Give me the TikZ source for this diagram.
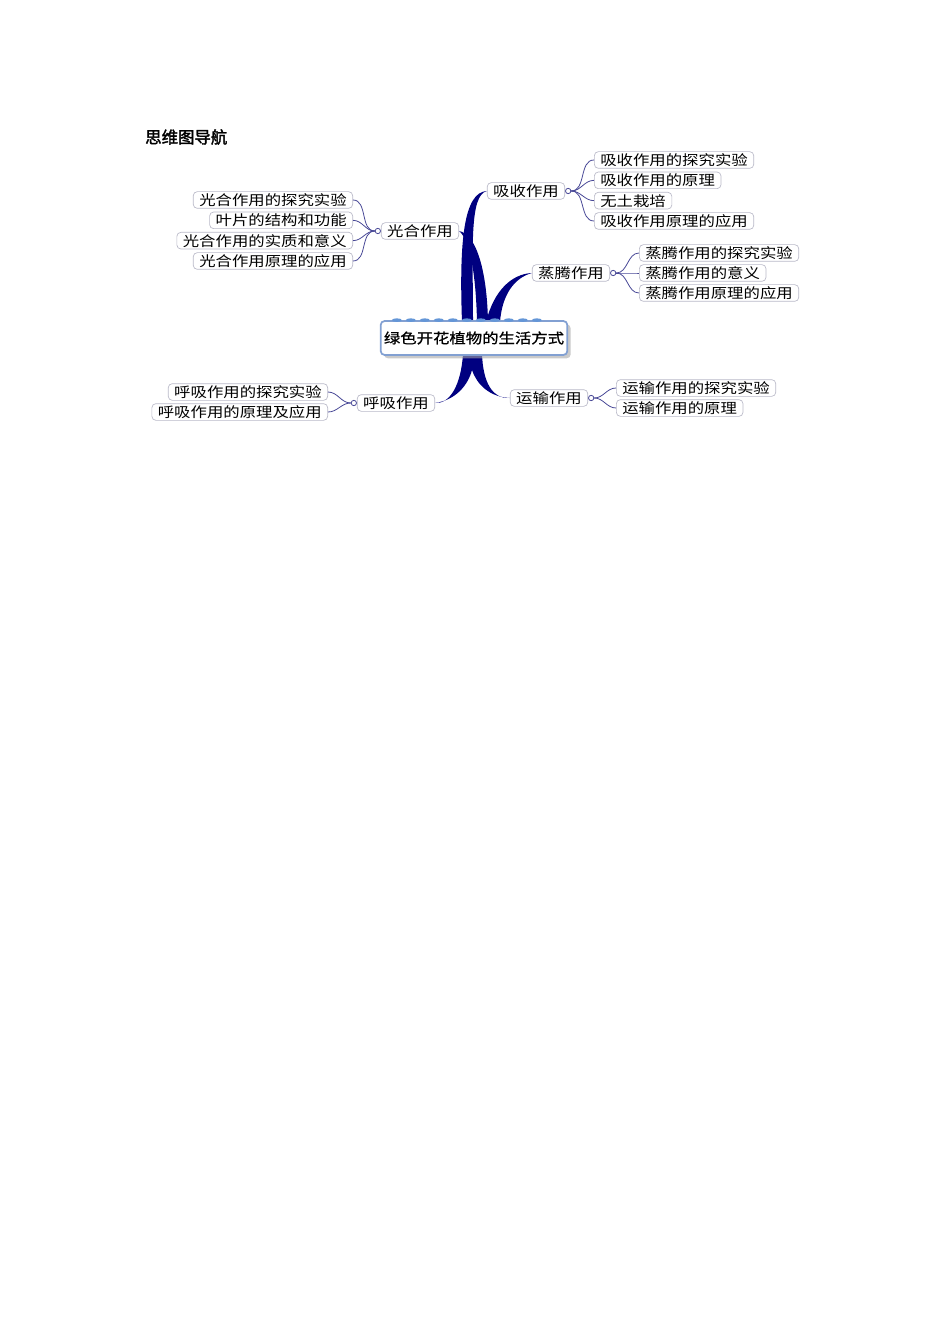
\documentclass[tikz,border=0pt]{standalone}
\usepackage{fontspec}
\newfontfamily\cjk[FakeStretch=1.17]{Noto Sans CJK SC}
\newfontfamily\cjkroot[FakeStretch=1.17, FakeBold=1]{Noto Sans CJK SC}
\newfontfamily\cjktitle[FakeBold=2]{Noto Sans CJK SC}
\usetikzlibrary{positioning, calc, shadows, backgrounds}
\definecolor{trunkblue}{RGB}{0,0,128}
\definecolor{linkblue}{RGB}{72,72,150}
\definecolor{boxgray}{RGB}{185,185,200}
\definecolor{rootedge}{RGB}{130,160,210}
\definecolor{scallop}{RGB}{100,150,215}

\begin{document}
\begin{tikzpicture}[x=0.75pt, y=-0.75pt,
        font=\cjk\fontsize{10.5pt}{12pt}\selectfont,
        leaf/.style={draw=boxgray, fill=white, rounded corners=3pt, line width=0.5pt, inner xsep=4.5pt, inner ysep=0.5pt, minimum height=12.5pt, text=black},
        topic/.style={leaf},
        knob/.style={circle, draw=linkblue, fill=white, line width=0.6pt, inner sep=0pt, minimum size=4pt},
        lnk/.style={draw=linkblue, line width=0.6pt},
        trunk/.style={fill=trunkblue},
        root/.style={draw=rootedge, line width=1.3pt, fill=white, rounded corners=3pt, minimum width=140pt, minimum height=25.5pt, inner sep=2pt,
          font=\cjkroot\fontsize{10.5pt}{12pt}\selectfont,
          drop shadow={shadow xshift=2.5pt, shadow yshift=-2.5pt, fill=black!35, opacity=0.6}},
      ]
        \useasboundingbox (0,0) rectangle (950,1344);

        % title
        \node[font=\cjktitle\fontsize{12.3pt}{14pt}\selectfont, anchor=west, inner sep=0pt] (title) at (145,137) {思维图导航};

        % central topic
        \node[root] (root) at (474,338) {绿色开花植物的生活方式};
        \foreach \k in {0,...,10} {
          \fill[scallop] ($(root.north west)+(17+\k*14,0)$) ellipse (5 and 1.8);
        }

        % main topics
        \node[topic] (guang) at (420,231) {光合作用};
        \node[topic] (xishou) at (526,191) {吸收作用};
        \node[topic] (zheng) at (571,273) {蒸腾作用};
        \node[topic] (huxi) at (396,403) {呼吸作用};
        \node[topic] (yunshu) at (549,398) {运输作用};

        \node[knob, left=0pt of guang] (guangk) {};
        \node[knob, right=0pt of xishou] (xishouk) {};
        \node[knob, right=0pt of zheng] (zhengk) {};
        \node[knob, left=0pt of huxi] (huxik) {};
        \node[knob, right=0pt of yunshu] (yunshuk) {};

        % tapered branches
        \begin{scope}[on background layer]
          \fill[trunk] ($(root.north)+(-12,2)$) .. controls (459,240) and (464,192) .. (xishou.west)
            .. controls (469,195) and (473,250) .. ($(root.north)+(-1,2)$) -- cycle;
          \fill[trunk] (guang.east) .. controls (476,234) and (487,270) .. ($(root.north)+(14,2)$)
            -- ($(root.north)+(3,2)$) .. controls (476,275) and (470,240) .. (guang.east) -- cycle;
          \fill[trunk] ($(root.north)+(12,2)$) .. controls (494,290) and (512,274) .. (zheng.west)
            .. controls (514,278) and (502,295) .. ($(root.north)+(26,2)$) -- cycle;
          \coordinate (split) at (472,370);
          \fill[trunk] ($(root.south)+(-11,-2)$) .. controls (461,385) and (450,404) .. (huxi.east)
            .. controls (456,400) and (468,385) .. (split)
            .. controls (477,385) and (490,397) .. (yunshu.west)
            .. controls (492,399) and (483,382) .. ($(root.south)+(8,-2)$) -- cycle;
        \end{scope}

        % 光合作用
        \foreach \i/\txt in {0/光合作用的探究实验, 1/叶片的结构和功能, 2/光合作用的实质和意义, 3/光合作用原理的应用} {
          \node[leaf, anchor=east] (guang\i) at (353, 200+\i*20.33) {\txt};
          \draw[lnk] (guangk.west) to[out=180, in=0] (guang\i.east);
        }

        % 吸收作用
        \foreach \i/\txt in {0/吸收作用的探究实验, 1/吸收作用的原理, 2/无土栽培, 3/吸收作用原理的应用} {
          \node[leaf, anchor=west] (xishou\i) at (594, 160+\i*20.33) {\txt};
          \draw[lnk] (xishouk.east) to[out=0, in=180] (xishou\i.west);
        }

        % 蒸腾作用
        \foreach \i/\txt in {0/蒸腾作用的探究实验, 1/蒸腾作用的意义, 2/蒸腾作用原理的应用} {
          \node[leaf, anchor=west] (zheng\i) at (639, 253+\i*20) {\txt};
          \draw[lnk] (zhengk.east) to[out=0, in=180] (zheng\i.west);
        }

        % 呼吸作用
        \foreach \i/\txt in {0/呼吸作用的探究实验, 1/呼吸作用的原理及应用} {
          \node[leaf, anchor=east] (huxi\i) at (328, 392+\i*20) {\txt};
          \draw[lnk] (huxik.west) to[out=180, in=0] (huxi\i.east);
        }

        % 运输作用
        \foreach \i/\txt in {0/运输作用的探究实验, 1/运输作用的原理} {
          \node[leaf, anchor=west] (yunshu\i) at (616, 388+\i*20) {\txt};
          \draw[lnk] (yunshuk.east) to[out=0, in=180] (yunshu\i.west);
        }
      \end{tikzpicture}
\end{document}
